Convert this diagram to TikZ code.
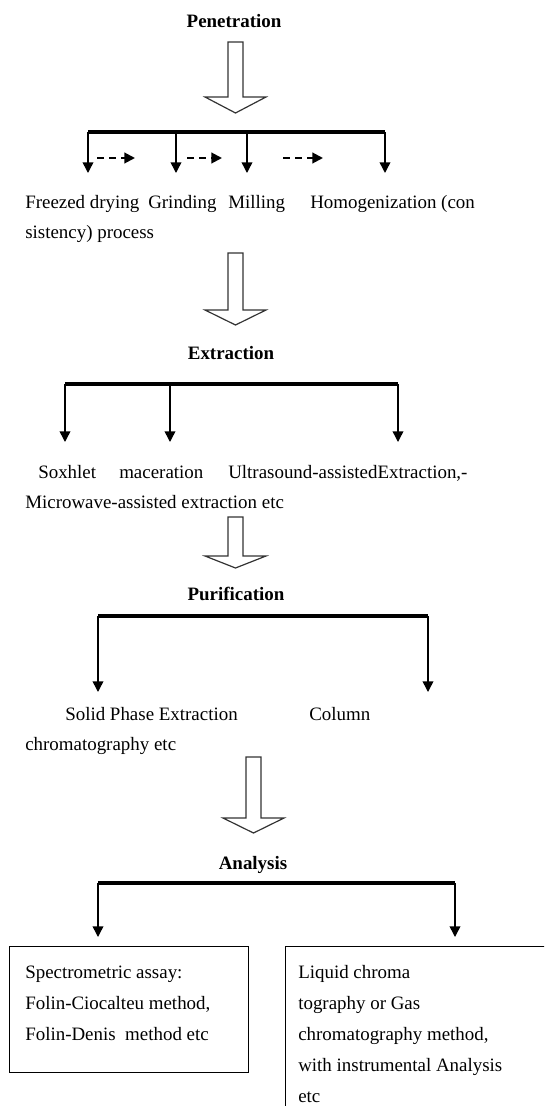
\documentclass[tikz,border=0pt]{standalone}
\usepackage{fontspec}
\setmainfont{Liberation Serif}
\usetikzlibrary{arrows.meta,positioning}

\newcommand{\labelsize}{\fontsize{14.2}{23.25}\selectfont}

% hollow block arrow: centre x, top y, end of shaft y, tip y
\newcommand{\hollowdown}[4]{%
  \draw [line width=0.9pt, black!80, line join=miter]
  (#1-7.5,#2) -- (#1+7.5,#2) -- (#1+7.5,#3) -- (#1+30.5,#3) --
  (#1,#4) -- (#1-30.5,#3) -- (#1-7.5,#3) -- cycle;}

\tikzset{
  title/.style={font=\labelsize\bfseries, inner sep=0pt, anchor=base},
  txt/.style={font=\labelsize, inner sep=0pt, anchor=base west, align=left},
  bar/.style={line width=3pt},
  drop/.style={line width=1.1pt, -{Triangle[length=8pt, width=8pt]}},
  nextstep/.style={line width=1.5pt, dash pattern=on 5.25pt off 3.75pt,
    -{Triangle[length=8pt, width=8pt]}},
  box/.style={draw, line width=1.1pt, inner sep=0pt, anchor=north west}
}

\begin{document}
\begin{tikzpicture}[x=0.75pt, y=-0.75pt]
    \clip (0,0) rectangle (544,1106);

    % Penetration
    \node [title] (pen) at (234,28) {Penetration};
    \hollowdown{235.5}{42}{97}{113}
    \coordinate (b1l) at (88,132);
    \coordinate (b1b) at (176,132);
    \coordinate (b1c) at (247,132);
    \coordinate (b1r) at (385,132);
    \draw [bar] (b1l) -- (b1r);
    \coordinate (t1a) at (88,173);
    \coordinate (t1b) at (176,173);
    \coordinate (t1c) at (247,173);
    \coordinate (t1d) at (385,173);
    \draw [drop] (b1l) -- (t1a);
    \draw [drop] (b1b) -- (t1b);
    \draw [drop] (b1c) -- (t1c);
    \draw [drop] (b1r) -- (t1d);
    \coordinate (d1s) at (97,158);  \coordinate (d1e) at (135,158);
    \coordinate (d2s) at (187,158); \coordinate (d2e) at (222,158);
    \coordinate (d3s) at (283,158); \coordinate (d3e) at (323,158);
    \draw [nextstep] (d1s) -- (d1e);
    \draw [nextstep] (d2s) -- (d2e);
    \draw [nextstep] (d3s) -- (d3e);
    \node [txt] (freeze) at (25,208) {Freezed drying};
    \node [txt] (grind) at (148,208) {Grinding};
    \node [txt] (mill) at (228,208) {Milling};
    \node [txt] (homog) at (310,208) {Homogenization (con};
    \node [txt] (homog2) at (25,238) {sistency) process};

    % Extraction
    \hollowdown{235.5}{253}{310}{325}
    \node [title] (ext) at (231,359) {Extraction};
    \coordinate (b2l) at (65,384);
    \coordinate (b2b) at (170,384);
    \coordinate (b2r) at (398,384);
    \draw [bar] (b2l) -- (b2r);
    \coordinate (t2a) at (65,442);
    \coordinate (t2b) at (170,442);
    \coordinate (t2c) at (398,442);
    \draw [drop] (b2l) -- (t2a);
    \draw [drop] (b2b) -- (t2b);
    \draw [drop] (b2r) -- (t2c);
    \node [txt] (soxh) at (38,478) {Soxhlet};
    \node [txt] (macer) at (119,478) {maceration};
    \node [txt] (ultra) at (228,478) {Ultrasound-assistedExtraction,-};
    \node [txt] (micro) at (25,508) {Microwave-assisted extraction etc};

    % Purification
    \hollowdown{235.5}{517}{556}{568}
    \node [title] (pur) at (236,600) {Purification};
    \coordinate (b3l) at (98,616);
    \coordinate (b3r) at (428,616);
    \draw [bar] (b3l) -- (b3r);
    \coordinate (t3a) at (98,692);
    \coordinate (t3b) at (428,692);
    \draw [drop] (b3l) -- (t3a);
    \draw [drop] (b3r) -- (t3b);
    \node [txt] (spe) at (65,720) {Solid Phase Extraction};
    \node [txt] (col) at (309,720) {Column};
    \node [txt] (chrom) at (25,750) {chromatography etc};

    % Analysis
    \hollowdown{253.5}{757}{818}{833}
    \node [title] (ana) at (253,869) {Analysis};
    \coordinate (b4l) at (98,883);
    \coordinate (b4r) at (455,883);
    \draw [bar] (b4l) -- (b4r);
    \coordinate (t4a) at (98,937);
    \coordinate (t4b) at (455,937);
    \draw [drop] (b4l) -- (t4a);
    \draw [drop] (b4r) -- (t4b);
    \node [box, minimum width=179.25pt, minimum height=94.5pt]
      (specbox) at (9,946) {};
    \node [box, minimum width=200pt, minimum height=150pt]
      (lcbox) at (285,946) {};
    % base of a several-line node is its last line
    \node [txt] (spectxt) at (25,1040)
      {Spectrometric assay:\\Folin-Ciocalteu method,\\Folin-Denis\ \ method etc};
    \node [txt] (lctxt) at (298,1102)
      {Liquid chroma\\tography or Gas\\chromatography method,\\with instrumental Analysis\\etc};
\end{tikzpicture}
\end{document}
